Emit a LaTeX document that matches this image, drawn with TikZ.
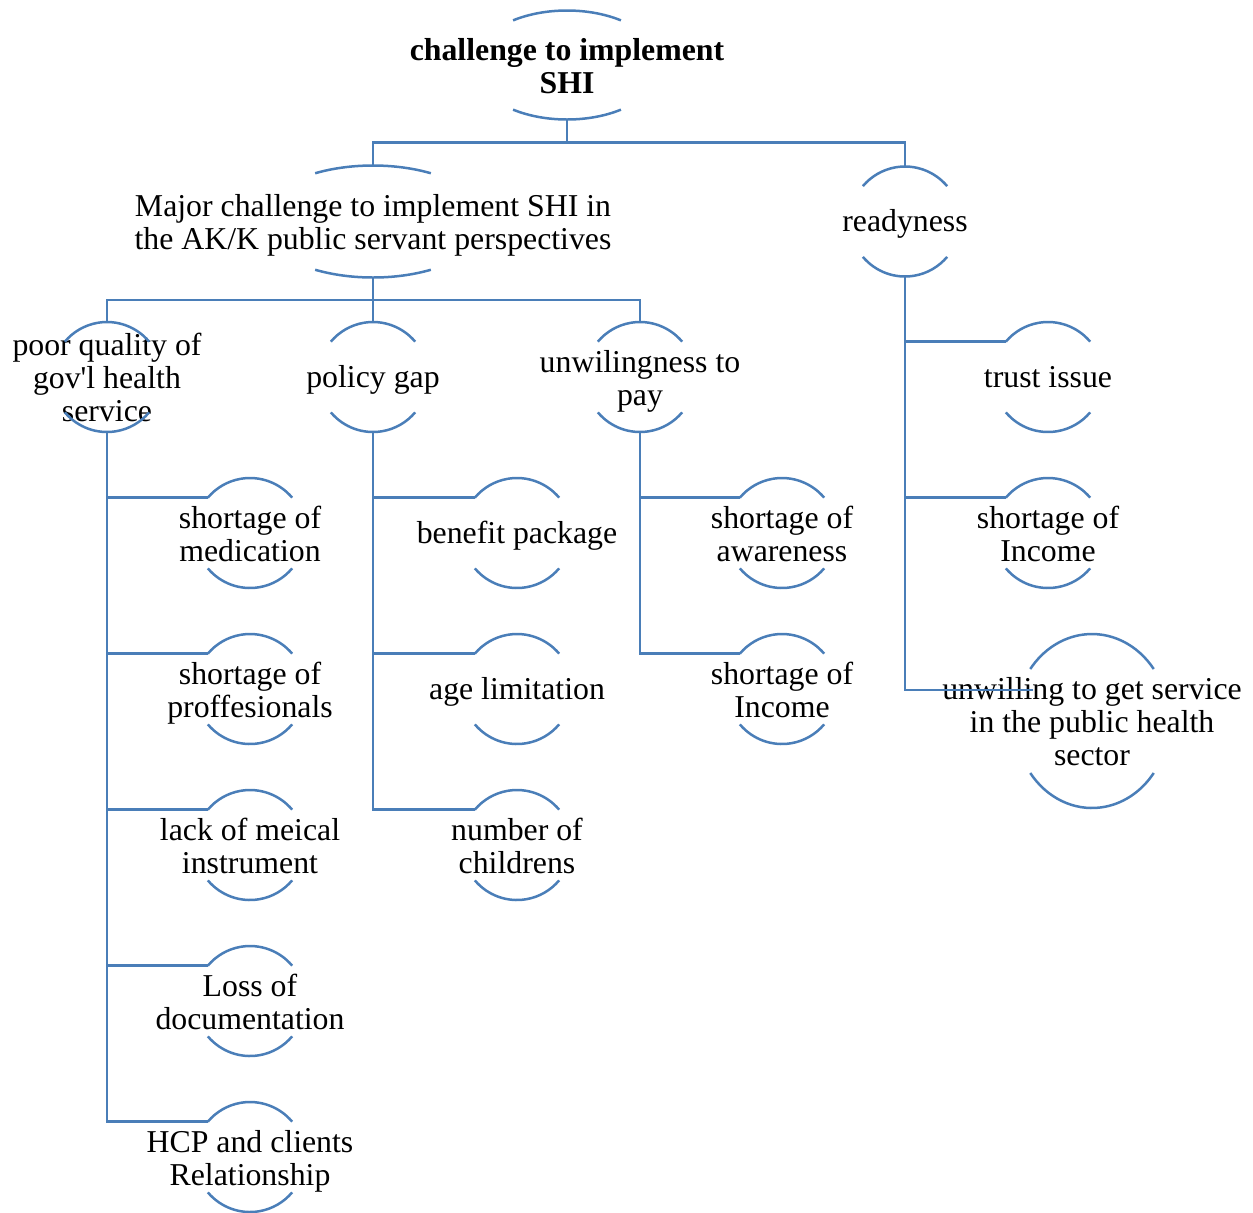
\documentclass[tikz,border=0pt]{standalone}
\usepackage{fontspec}
\setmainfont{Liberation Serif}
\usetikzlibrary{calc}
\begin{document}
\begin{tikzpicture}[x=0.5pt,y=0.5pt]

% définition des styles
\definecolor{bleu}{RGB}{74,126,184}
\tikzstyle{arc}=[draw=bleu,line width=1.25pt]
\tikzstyle{lien}=[draw=bleu,line width=1.25pt]
\tikzstyle{texte}=[align=center,inner sep=0pt,font=\fontsize{15.9}{16.5}\selectfont,
  execute at begin node={\rule{0pt}{14pt}},execute at end node={\rule[-3.7pt]{0pt}{3.7pt}}]
\tikzstyle{deux}=[texte,execute at begin node={\rule{0pt}{32pt}}]
\tikzstyle{trois}=[texte,execute at begin node={\rule{0pt}{48pt}}]

\useasboundingbox (0,0) rectangle (1253,-1212);

% les noeuds
\node[deux,font=\fontsize{15.9}{16.5}\selectfont\bfseries] (racine) at (567,-65) {challenge to implement\\SHI};
\node[deux] (majeur) at (373,-221.5) {Major challenge to implement SHI in\\the AK/K public servant perspectives};
\node[texte] (ready) at (905,-221.5) {readyness};

\node[trois] (pq) at (107,-377) {poor quality of\\gov\textquotesingle l health\\service};
\node[texte] (pg) at (373,-377) {policy gap};
\node[deux] (unw) at (640,-377) {unwilingness to\\pay};

\node[deux] (med) at (250,-533) {shortage of\\medication};
\node[deux] (prof) at (250,-689) {shortage of\\proffesionals};
\node[deux] (instr) at (250,-845) {lack of meical\\instrument};
\node[deux] (doc) at (250,-1001) {Loss of\\documentation};
\node[deux] (hcp) at (250,-1157) {HCP and clients\\Relationship};

\node[texte] (benef) at (517,-533) {benefit package};
\node[texte] (age) at (517,-689) {age limitation};
\node[deux] (enfants) at (517,-845) {number of\\childrens};

\node[deux] (sensib) at (782,-533) {shortage of\\awareness};
\node[deux] (revenuA) at (782,-689) {shortage of\\Income};

\node[texte] (trust) at (1048,-377) {trust issue};
\node[deux] (revenuB) at (1048,-533) {shortage of\\Income};
\node[trois] (refus) at (1092,-721) {unwilling to get service\\in the public health\\sector};

% les arcs
\draw[arc] ([shift={(55:94 and 54.5)}]racine.center) arc[start angle=55,end angle=125,x radius=94,y radius=54.5];
\draw[arc] ([shift={(235:94 and 54.5)}]racine.center) arc[start angle=235,end angle=305,x radius=94,y radius=54.5];
\coordinate (racine-b) at ([shift={(0,-54.5)}]racine.center);

\draw[arc] ([shift={(59.5:114 and 56)}]majeur.center) arc[start angle=59.5,end angle=120.5,x radius=114,y radius=56];
\draw[arc] ([shift={(239.5:114 and 56)}]majeur.center) arc[start angle=239.5,end angle=300.5,x radius=114,y radius=56];
\coordinate (majeur-h) at ([shift={(0,56)}]majeur.center);
\coordinate (majeur-b) at ([shift={(0,-56)}]majeur.center);

\draw[arc] ([shift={(36.7:77 and 87)}]refus.center) arc[start angle=36.7,end angle=143.3,x radius=77,y radius=87];
\draw[arc] ([shift={(216.7:77 and 87)}]refus.center) arc[start angle=216.7,end angle=323.3,x radius=77,y radius=87];
\coordinate (refus-g) at ([shift={(-59,31)}]refus.center);

\foreach \n in {ready,pq,pg,unw,med,prof,instr,doc,hcp,benef,age,enfants,sensib,revenuA,trust,revenuB}{
  \draw[arc] ([shift={(40:55)}]\n.center) arc[start angle=40,end angle=140,radius=55];
  \draw[arc] ([shift={(220:55)}]\n.center) arc[start angle=220,end angle=320,radius=55];
  \coordinate (\n-h) at ([shift={(0,55)}]\n.center);
  \coordinate (\n-b) at ([shift={(0,-55)}]\n.center);
  \coordinate (\n-g) at ([shift={(140:55)}]\n.center);
}

% les liens
\draw[lien] (racine-b) |- ($(racine-b)!.5!(majeur-h)$) -| (majeur-h);
\draw[lien] (racine-b) |- ($(racine-b)!.5!(majeur-h)$) -| (ready-h);

\draw[lien] (majeur-b) |- ($(majeur-b)!.5!(pq-h)$) -| (pq-h);
\draw[lien] (majeur-b) -- (pg-h);
\draw[lien] (majeur-b) |- ($(majeur-b)!.5!(pq-h)$) -| (unw-h);

\foreach \n in {med,prof,instr,doc,hcp} \draw[lien] (pq-b) |- (\n-g);
\foreach \n in {benef,age,enfants} \draw[lien] (pg-b) |- (\n-g);
\foreach \n in {sensib,revenuA} \draw[lien] (unw-b) |- (\n-g);
\foreach \n in {trust,revenuB,refus} \draw[lien] (ready-b) |- (\n-g);

\end{tikzpicture}
\end{document}
